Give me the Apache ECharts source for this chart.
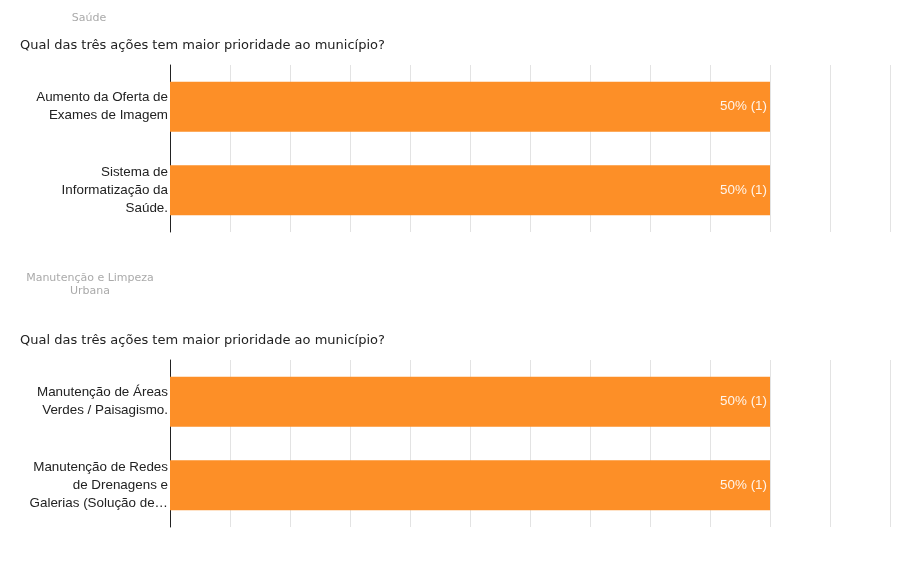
<!DOCTYPE html>
<html>
<head>
<meta charset="utf-8">
<script src="https://cdn.jsdelivr.net/npm/echarts@6/dist/echarts.min.js"></script>
<style>
  html, body { margin: 0; padding: 0; background: #fff; }
  #main { width: 913px; height: 561px; }
</style>
</head>
<body>
<div id="main"></div>
<script>
// section headers + the question
var sections = ['Saúde', 'Manutenção e Limpeza\nUrbana']
var question = 'Qual das três ações tem maior prioridade ao município?'

// categories per section (line breaks as shown)
var cats_saude = ['Aumento da Oferta de\nExames de Imagem', 'Sistema de\nInformatização da\nSaúde.']
var cats_limpeza = ['Manutenção de Áreas\nVerdes / Paisagismo.', 'Manutenção de Redes\nde Drenagens e\nGalerias (Solução de…']

// percent and count
var pct_saude = [50, 50]
var cnt_saude = [1, 1]
var pct_limpeza = [50, 50]
var cnt_limpeza = [1, 1]

var orange = '#fd8f27'
var chartDom = document.getElementById('main')
var myChart = echarts.init(chartDom)

function makeData(pct, cnt)
{
    var out = []
    pct.forEach(function(v, i) {
        out.push({ value: v, cnt: cnt[i] })
    })
    return out
}

function xAxisOf(idx)
{
    return {
        gridIndex: idx,
        type: 'value',
        min: 0,
        max: 60,
        interval: 5,
        axisLabel: { show: false },
        axisTick: { show: false },
        axisLine: { show: false },
        splitLine: { show: true, lineStyle: { color: '#e3e3e3', width: 1 } }
    }
}

function yAxisOf(idx, cats)
{
    return {
        gridIndex: idx,
        type: 'category',
        inverse: true,
        data: cats,
        axisTick: { show: false },
        axisLine: { show: true, lineStyle: { color: '#222', width: 1 } },
        axisLabel: {
            margin: 2,
            align: 'right',
            color: '#222',
            fontFamily: 'Liberation Sans, Arial, sans-serif',
            fontSize: 13.4,
            lineHeight: 18,
            padding: [4, 0, 0, 0]
        }
    }
}

function seriesOf(idx, pct, cnt)
{
    return {
        type: 'bar',
        xAxisIndex: idx,
        yAxisIndex: idx,
        data: makeData(pct, cnt),
        barWidth: 50,
        itemStyle: { color: orange },
        label: {
            show: true,
            position: 'insideRight',
            distance: 3,
            color: 'rgba(255,255,255,0.9)',
            fontFamily: 'Liberation Sans, Arial, sans-serif',
            fontSize: 13.4,
            formatter: function(p) { return p.value + '% (' + p.data.cnt + ')' }
        },
        silent: true
    }
}

var option = {
    animation: false,
    title: [
        {
            text: sections[0],
            left: 89, top: 13, padding: 0,
            textAlign: 'center',
            textStyle: { color: '#aaa', fontSize: 11, fontWeight: 'normal', fontFamily: 'DejaVu Sans' }
        },
        {
            text: question,
            left: 20, top: 39, padding: 0,
            textStyle: { color: '#222', fontSize: 13, fontWeight: 'normal', fontFamily: 'DejaVu Sans' }
        },
        {
            text: sections[1],
            left: 90, top: 272, padding: 0,
            textAlign: 'center',
            textStyle: { color: '#aaa', fontSize: 11, fontWeight: 'normal', fontFamily: 'DejaVu Sans', lineHeight: 13 }
        },
        {
            text: question,
            left: 20, top: 334, padding: 0,
            textStyle: { color: '#222', fontSize: 13, fontWeight: 'normal', fontFamily: 'DejaVu Sans' }
        }
    ],
    grid: [
        { left: 170, width: 720, top: 65, height: 167 },
        { left: 170, width: 720, top: 360, height: 167 }
    ],
    xAxis: [xAxisOf(0), xAxisOf(1)],
    yAxis: [yAxisOf(0, cats_saude), yAxisOf(1, cats_limpeza)],
    series: [seriesOf(0, pct_saude, cnt_saude), seriesOf(1, pct_limpeza, cnt_limpeza)]
}

myChart.setOption(option)
</script>
</body>
</html>
